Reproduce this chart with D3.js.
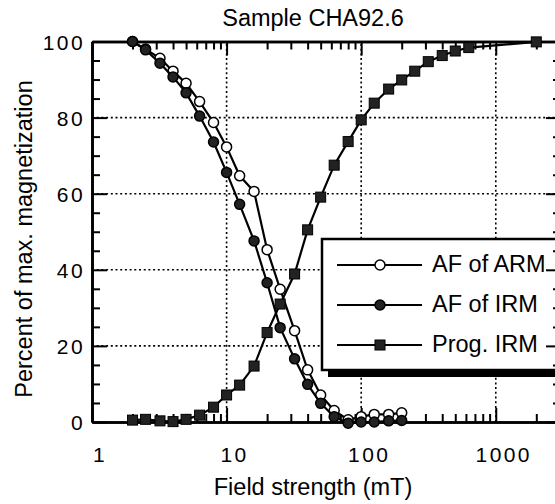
<!DOCTYPE html>
<html>
<head>
<meta charset="utf-8">
<script src="https://cdn.jsdelivr.net/npm/d3@7"></script>
<style>
  html, body { margin: 0; padding: 0; background: #fff; }
  svg text { font-family: "Liberation Sans", Arial, sans-serif; fill: #000; }
  .grid line { stroke: #000; stroke-width: 1.6; stroke-dasharray: 2, 2.7; }
  .frame .domain { stroke: #000; stroke-width: 2.6; }
  .frame .tick line { stroke: #000; stroke-width: 2; }
  .tick-label { font-size: 21px; letter-spacing: 2.4px; }
</style>
</head>
<body>
<div id="chart"></div>
<script>
(function(d3) {
  'use strict';

  // field steps (mT) of the AF demagnetisation runs
  var fieldAF = [2, 2.5, 3.2, 4, 5, 6.3, 8, 10, 12.5, 16, 20, 25, 32, 40, 50, 63, 80, 100, 125, 160, 200];
  var afARM = [100, 98, 95.6, 92.2, 89.0, 84.2, 78.7, 72.3, 64.7, 60.6, 45.3, 34.9, 24.0, 13.7, 7.1, 3.0, 0.6, 1.4, 2.0, 2.0, 2.4];
  var afIRM = [100, 97.8, 94.3, 90.7, 86.5, 80.4, 73.6, 65.6, 57.2, 47.6, 36.6, 24.8, 16.6, 9.9, 4.9, 1.4, -0.3, 0.0, 0.0, 0.3, 0.4];

  // progressive IRM acquisition
  var fieldIRM = [2, 2.5, 3.2, 4, 5, 6.3, 8, 10, 12.5, 16, 20, 25, 32, 40, 50, 63, 80, 100, 125, 160, 200, 250, 315, 400, 500, 630, 2000];
  var progIRM = [0.5, 0.7, 0.3, 0.1, 0.7, 1.8, 3.9, 7.1, 9.7, 14.7, 23.5, 31.0, 38.9, 50.5, 59.1, 67.5, 73.7, 79.4, 83.8, 87.5, 89.9, 92.2, 94.7, 96.3, 97.5, 98.4, 99.9];

  var xMajor = [1, 10, 100, 1000];
  var xGrid = [10, 100, 1000];
  var yMajor = [0, 20, 40, 60, 80, 100];
  var yGrid = [20, 40, 60, 80];
  var legendNames = ['AF of ARM', 'AF of IRM', 'Prog. IRM'];

  var width = 555, height = 504;
  var xMinor = [];
  [1, 10, 100, 1000].forEach(function(dec) {
    for (var k = 2; k <= 9; k++) { if (dec * k <= 3000) xMinor.push(dec * k); }
  });
  var yMinor = d3.range(5, 100, 5).filter(function(v) { return v % 20 !== 0; });

  var x = d3.scaleLog().domain([1, 3000]).range([92, 560]);
  var y = d3.scaleLinear().domain([0, 100]).range([422, 41.5]);

  var svg = d3.select('#chart').append('svg')
    .attr('width', width)
    .attr('height', height);

  // dotted grid
  var grid = svg.append('g').attr('class', 'grid');
  grid.selectAll('.gy').data(yGrid).enter().append('line')
    .attr('x1', x.range()[0]).attr('x2', x.range()[1])
    .attr('y1', y).attr('y2', y);
  grid.selectAll('.gx').data(xGrid).enter().append('line')
    .attr('x1', x).attr('x2', x)
    .attr('y1', y.range()[0]).attr('y2', y.range()[1]);

  // legend box with drop shadow (drawn under the data)
  var legend = svg.append('g');
  legend.append('rect')
    .attr('x', 328).attr('y', 246).attr('width', 300).attr('height', 131)
    .attr('fill', '#000');
  legend.append('rect')
    .attr('x', 322).attr('y', 239).attr('width', 300).attr('height', 131)
    .attr('fill', '#fff').attr('stroke', '#000').attr('stroke-width', 2.5);

  // frame: all four sides, ticks point inward
  function frameAxis(axis, ticks, size, transform) {
    var g = svg.append('g').attr('class', 'frame').attr('transform', transform);
    g.call(axis.tickValues(ticks).tickSize(size).tickSizeOuter(0).tickFormat(''));
    return g;
  }
  var bottom = 'translate(0,' + y.range()[0] + ')';
  var top = 'translate(0,' + y.range()[1] + ')';
  var left = 'translate(' + x.range()[0] + ',0)';
  var right = 'translate(' + x.range()[1] + ',0)';

  frameAxis(d3.axisBottom(x), xMinor, -8, bottom);
  frameAxis(d3.axisBottom(x), xMajor, -14, bottom);
  frameAxis(d3.axisTop(x), xMinor, -8, top);
  frameAxis(d3.axisTop(x), xMajor, -14, top);
  frameAxis(d3.axisLeft(y), yMinor, -8, left);
  frameAxis(d3.axisLeft(y), yMajor, -15, left);
  frameAxis(d3.axisRight(y), yMinor, -7, right);
  frameAxis(d3.axisRight(y), yMajor, -14, right);

  // tick labels
  svg.append('g').selectAll('text').data(xMajor).enter().append('text')
    .attr('class', 'tick-label')
    .attr('x', function(d) { return x(d) + 8; })
    .attr('y', 462)
    .attr('text-anchor', 'middle')
    .text(function(d) { return d; });
  svg.append('g').selectAll('text').data(yMajor).enter().append('text')
    .attr('class', 'tick-label')
    .attr('x', 85)
    .attr('y', function(d) { return y(d) + 8; })
    .attr('text-anchor', 'end')
    .text(function(d) { return d; });

  // series
  var line = d3.line()
    .x(function(d) { return x(d[0]); })
    .y(function(d) { return y(d[1]); });

  var arm = d3.zip(fieldAF, afARM);
  var irm = d3.zip(fieldAF, afIRM);
  var prog = d3.zip(fieldIRM, progIRM);

  function drawLine(pts) {
    svg.append('path').datum(pts)
      .attr('d', line)
      .attr('fill', 'none')
      .attr('stroke', '#000')
      .attr('stroke-width', 2.2);
  }
  function circles(pts, fill) {
    svg.append('g').selectAll('circle').data(pts).enter().append('circle')
      .attr('cx', function(d) { return x(d[0]); })
      .attr('cy', function(d) { return y(d[1]); })
      .attr('r', 5)
      .attr('fill', fill)
      .attr('stroke', '#000')
      .attr('stroke-width', 1.5);
  }
  function squares(pts) {
    svg.append('g').selectAll('rect').data(pts).enter().append('rect')
      .attr('x', function(d) { return x(d[0]) - 5; })
      .attr('y', function(d) { return y(d[1]) - 5; })
      .attr('width', 10).attr('height', 10)
      .attr('fill', '#222')
      .attr('stroke', '#000');
  }

  drawLine(arm); circles(arm, '#fff');
  drawLine(irm); circles(irm, '#222');
  drawLine(prog); squares(prog);

  // legend entries
  var rowY = [265, 305, 345];
  var lg = svg.append('g').selectAll('g').data(legendNames).enter().append('g')
    .attr('transform', function(d, i) { return 'translate(0,' + rowY[i] + ')'; });
  lg.append('line')
    .attr('x1', 337).attr('x2', 422)
    .attr('stroke', '#000').attr('stroke-width', 2.2);
  lg.filter(function(d, i) { return i < 2; }).append('circle')
    .attr('cx', 380).attr('r', 5)
    .attr('fill', function(d, i) { return i === 0 ? '#fff' : '#222'; })
    .attr('stroke', '#000').attr('stroke-width', 1.5);
  lg.filter(function(d, i) { return i === 2; }).append('rect')
    .attr('x', 375).attr('y', -5).attr('width', 10).attr('height', 10)
    .attr('fill', '#222').attr('stroke', '#000');
  lg.append('text')
    .attr('x', 432).attr('y', 7)
    .style('font-size', '23.5px')
    .text(function(d) { return d; });

  // titles
  svg.append('text')
    .attr('x', 313).attr('y', 26)
    .attr('text-anchor', 'middle')
    .style('font-size', '23.5px')
    .text('Sample CHA92.6');
  svg.append('text')
    .attr('x', 313).attr('y', 495)
    .attr('text-anchor', 'middle')
    .style('font-size', '23.5px')
    .text('Field strength (mT)');
  svg.append('text')
    .attr('transform', 'translate(32,239) rotate(-90)')
    .attr('text-anchor', 'middle')
    .style('font-size', '23.5px')
    .text('Percent of max. magnetization');
}(d3));
</script>
</body>
</html>
